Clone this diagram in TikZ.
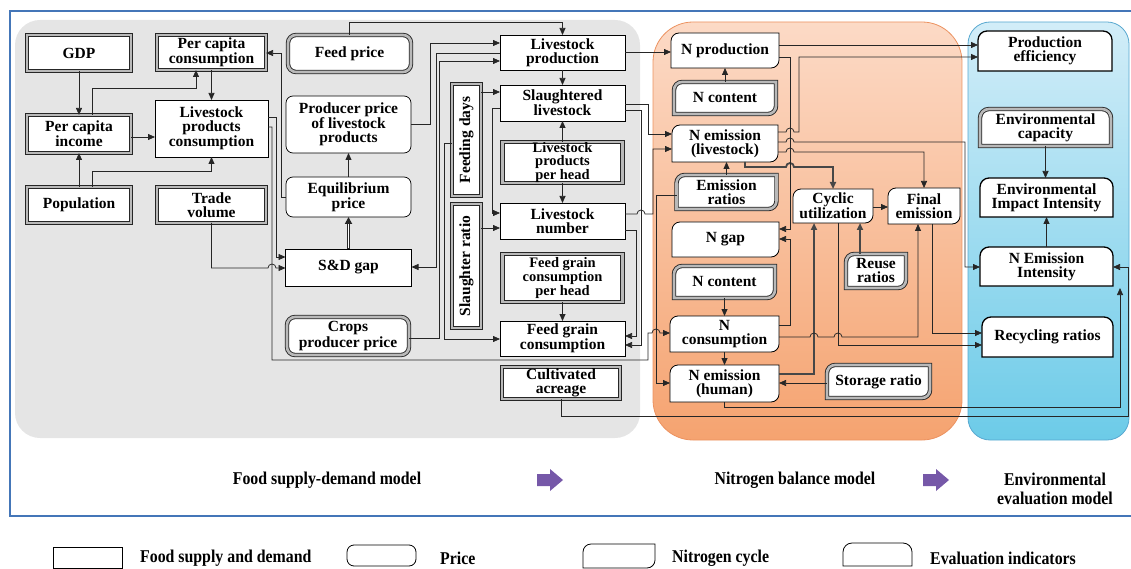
\documentclass[tikz,border=0pt]{standalone}
\usepackage{fontspec}
\setmainfont{Liberation Serif}
\newfontfamily\condfont[FakeStretch=0.88]{Liberation Serif}
\usetikzlibrary{arrows.meta}
\pgfdeclarelayer{back}
\pgfdeclarelayer{mid}
\pgfsetlayers{back,mid,main}
\definecolor{panelgray}{RGB}{229,229,229}
\definecolor{orTop}{RGB}{252,218,198}
\definecolor{orBot}{RGB}{245,163,112}
\definecolor{orLine}{RGB}{236,146,96}
\definecolor{blTop}{RGB}{210,237,248}
\definecolor{blBot}{RGB}{108,203,232}
\definecolor{blLine}{RGB}{88,168,208}
\definecolor{frameblue}{RGB}{68,118,184}
\definecolor{purp}{RGB}{118,88,168}
\newcommand{\nfont}{\fontsize{15.5}{14}\selectfont\bfseries}
\newcommand{\tfont}{\fontsize{14.5}{12.6}\selectfont\bfseries}
\newcommand{\lfont}{\condfont\fontsize{18}{19}\selectfont\bfseries}
\newcommand{\nitshape}[2]{\draw[#2] (#1.south west) -- ([yshift=-8pt]#1.north west) arc[start angle=180,end angle=90,radius=8pt] -- (#1.north east) -- ([yshift=8pt]#1.south east) arc[start angle=0,end angle=-90,radius=8pt] -- cycle;}
\newcommand{\evshape}[2]{\draw[#2] (#1.south west) -- ([yshift=-9pt]#1.north west) arc[start angle=180,end angle=90,radius=9pt] -- ([xshift=-9pt]#1.north east) arc[start angle=90,end angle=0,radius=9pt] -- (#1.south east) -- cycle;}
\begin{document}
\begin{tikzpicture}[x=1pt,y=-1pt,
  base/.style={font=\nfont, align=center, inner sep=1pt, outer sep=0pt},
  food/.style={base, draw=black, line width=0.7pt, fill=white},
  foodx/.style={base, draw=black!85, line width=0.9pt, double=gray!55, double distance=2.6pt, fill=white},
  price/.style={food, rounded corners=7pt},
  pricex/.style={foodx, rounded corners=8pt},
  tightx/.style={font=\tfont, inner sep=0pt},
  nbox/.style={base},
  sline/.style={draw=black, line width=0.8pt, fill=white},
  sdbl/.style={draw=black!85, line width=0.9pt, double=gray!55, double distance=2.6pt, fill=white},
  sev/.style={draw=black, line width=1.3pt, fill=white},
  conn/.style={draw=black!85, line width=0.75pt, -{Triangle[length=7pt,width=6pt]}},
  thk/.style={conn, line width=1.8pt, draw=black!72},
  lab/.style={font=\lfont, align=center, inner sep=0pt},
  legbox/.style={base, minimum width=69pt, minimum height=21pt}
]
\useasboundingbox (0,0) rectangle (1131,569);

% ---------- panels ----------
\begin{pgfonlayer}{back}
\fill[panelgray, rounded corners=25pt] (15,20) rectangle (640,438);
\shade[top color=orTop, bottom color=orBot, rounded corners=40pt] (653,22) rectangle (962,440);
\draw[orLine, line width=0.8pt, rounded corners=40pt] (653,22) rectangle (962,440);
\shade[top color=blTop, bottom color=blBot, rounded corners=22pt] (968,22) rectangle (1129,440);
\draw[blLine, line width=0.8pt, rounded corners=22pt] (968,22) rectangle (1129,440);
\draw[frameblue, line width=2.6pt] (1140,11) -- (10,11) -- (10,516) -- (1140,516);
\end{pgfonlayer}

% ---------- food supply-demand nodes ----------
\node[foodx, minimum width=104pt, minimum height=36pt] (gdp) at (79,53) {GDP};
\node[foodx, minimum width=109pt, minimum height=35pt] (pcc) at (211.5,52.5) {Per capita\\consumption};
\node[pricex, minimum width=123pt, minimum height=37pt] (feedp) at (349.5,53.5) {Feed price};
\node[foodx, minimum width=104pt, minimum height=38pt] (pci) at (79,134) {Per capita\\income};
\node[food, minimum width=113pt, minimum height=57pt] (lpc) at (211.5,128.5) {Livestock\\products\\consumption};
\node[price, minimum width=125pt, minimum height=57pt] (ppl) at (348.5,124.5) {Producer price\\of livestock\\products};
\node[price, minimum width=125pt, minimum height=40pt] (eqp) at (348.5,197) {Equilibrium\\price};
\node[foodx, minimum width=104pt, minimum height=36pt] (pop) at (79,205) {Population};
\node[foodx, minimum width=109pt, minimum height=36pt] (trade) at (211.5,205) {Trade\\volume};
\node[food, minimum width=126pt, minimum height=37pt] (sdg) at (348.5,267.5) {S\&D gap};
\node[pricex, minimum width=122pt, minimum height=38pt] (cpp) at (348,336) {Crops\\producer price};
\node[foodx, minimum width=29pt, minimum height=112pt] (fdays) at (466.5,140) {\rotatebox{90}{Feeding days}};
\node[foodx, minimum width=29pt, minimum height=124pt] (sratio) at (466.5,266) {\rotatebox{90}{Slaughter ratio}};
\node[food, minimum width=125pt, minimum height=35pt] (lp) at (562.5,52.5) {Livestock\\production};
\node[food, minimum width=125pt, minimum height=36pt] (sl) at (562.5,103) {Slaughtered\\livestock};
\node[foodx, tightx, minimum width=120pt, minimum height=41pt] (lpph) at (562.5,162.5) {Livestock\\products\\per head};
\node[food, minimum width=125pt, minimum height=36pt] (ln) at (562.5,221) {Livestock\\number};
\node[foodx, tightx, minimum width=120pt, minimum height=48pt] (fgcph) at (562.5,278) {Feed grain\\consumption\\per head};
\node[food, minimum width=125pt, minimum height=35pt] (fgc) at (562.5,338.5) {Feed grain\\consumption};
\node[foodx, minimum width=118pt, minimum height=32pt] (ca) at (561,383) {Cultivated\\acreage};

% ---------- nitrogen balance nodes ----------
\node[nbox, minimum width=108pt, minimum height=35pt] (nprod) at (725,50.5) {N production};
\node[nbox, minimum width=102pt, minimum height=32pt] (ncont1) at (725,98) {N content};
\node[nbox, minimum width=106pt, minimum height=37pt] (nel) at (725,143.5) {N emission\\(livestock)};
\node[nbox, minimum width=100pt, minimum height=34pt] (er) at (726.5,192) {Emission\\ratios};
\node[nbox, minimum width=107pt, minimum height=35pt] (ngap) at (725.5,239.5) {N gap};
\node[nbox, minimum width=101pt, minimum height=32pt] (ncont2) at (724.5,282) {N content};
\node[nbox, minimum width=109pt, minimum height=36pt] (ncons) at (724.5,334) {N\\consumption};
\node[nbox, minimum width=109pt, minimum height=37pt] (neh) at (724.5,383.5) {N emission\\(human)};
\node[nbox, minimum width=80pt, minimum height=34pt] (cyc) at (833,206) {Cyclic\\utilization};
\node[nbox, minimum width=72pt, minimum height=36pt] (fe) at (924,206) {Final\\emission};
\node[nbox, minimum width=60pt, minimum height=34pt] (reuse) at (876,271) {Reuse\\ratios};
\node[nbox, minimum width=103pt, minimum height=33pt] (storage) at (878.5,381.5) {Storage ratio};

% ---------- evaluation nodes ----------
\node[nbox, minimum width=134pt, minimum height=40pt] (pe) at (1045,51) {Production\\efficiency};
\node[nbox, minimum width=131pt, minimum height=37pt] (ecap) at (1045.5,127.5) {Environmental\\capacity};
\node[nbox, minimum width=133pt, minimum height=39pt] (eii) at (1046.5,197.5) {Environmental\\Impact Intensity};
\node[nbox, minimum width=133pt, minimum height=39pt] (nei) at (1046.5,266.5) {N Emission\\Intensity};
\node[nbox, minimum width=131pt, minimum height=40pt] (rr) at (1047.5,337) {Recycling ratios};

% ---------- legend nodes ----------
\node[legbox, draw=black, line width=0.8pt] (lg1) at (87.5,557.5) {};
\node[legbox, draw=black, line width=0.8pt, rounded corners=7pt] (lg2) at (381.5,555.5) {};
\node[legbox, minimum width=72pt, minimum height=24pt] (lg3) at (619,556) {};
\node[legbox, minimum height=23pt] (lg4) at (877.5,554.5) {};
\node[lab, anchor=west] (lt1) at (140,558) {Food supply and demand};
\node[lab, anchor=west] (lt2) at (440,558) {Price};
\node[lab, anchor=west] (lt3) at (672,558) {Nitrogen cycle};
\node[lab, anchor=west] (lt4) at (930,558) {Evaluation indicators};

% ---------- custom shapes ----------
\begin{pgfonlayer}{mid}
\nitshape{nprod}{sline}
\nitshape{ncont1}{sdbl}
\nitshape{nel}{sline}
\nitshape{er}{sdbl}
\nitshape{ngap}{sline}
\nitshape{ncont2}{sdbl}
\nitshape{ncons}{sline}
\nitshape{neh}{sline}
\nitshape{cyc}{sline}
\nitshape{fe}{sline}
\nitshape{reuse}{sdbl}
\nitshape{storage}{sdbl}
\evshape{pe}{sev}
\evshape{ecap}{sdbl}
\evshape{eii}{sev}
\evshape{nei}{sev}
\evshape{rr}{sev}
\nitshape{lg3}{sline}
\evshape{lg4}{sline}
\end{pgfonlayer}

% ---------- food model connectors ----------
\draw[conn] (gdp.south) -- (gdp.south |- pci.north);
\draw[conn] (pop.north) -- (pop.north |- pci.south);
\draw[conn] (pci.north -| 92,0) -- (92,88) -| (pcc.south -| 196,0);
\draw[conn] (pop.north -| 92,0) -- (92,171) -| (lpc.south);
\draw[conn] (pcc.south) -- (pcc.south |- lpc.north);
\draw[conn] (pci.east |- 0,137) -- (lpc.west |- 0,137);
\draw[conn] (trade.south) -- (211.5,268) -- (268,268) arc[start angle=180,end angle=0,radius=4pt] -- (sdg.west |- 0,268);
\draw[conn] (lpc.east |- 0,117) -- (276,117) -- (276,257) -- (sdg.west |- 0,257);
\draw[conn] (lpc.east |- 0,127) -- (272,127) -- (272,360) -- (648,360) -- (648,333) -- (652,333) arc[start angle=180,end angle=0,radius=4pt] -- (ncons.west |- 0,333);
\draw[conn] (eqp.west) -- (281,197) -- (281,53) -- (pcc.east |- 0,53);
\draw[line width=2.4pt, draw=black!85, -{Triangle[length=7pt,width=7pt]}] (sdg.north) -- (sdg.north |- eqp.south);
\draw[white, line width=0.8pt, shorten <=1pt, shorten >=7pt] (sdg.north) -- (sdg.north |- eqp.south);
\draw[conn] (eqp.north) -- (eqp.north |- ppl.south);
\draw[conn] (ppl.east) -- (430,124.5) -- (430,43) -- (lp.west |- 0,43);
\draw[conn] (feedp.north) -- (349.5,22) -| (lp.north);
\draw[conn] (lp.west |- 0,53) -- (436,53) -- (436,267) -- (sdg.east |- 0,267);
\draw[conn] (cpp.east |- 0,338) -- (439,338) -- (439,61) -- (lp.west |- 0,61);
\draw[conn] (fdays.west |- 0,143) -- (444,143) -- (444,339) -- (fgc.west |- 0,339);
\draw[conn] (fdays.east |- 0,92) -- (sl.west |- 0,92);
\draw[conn] (sratio.east |- 0,228) -- (ln.west |- 0,228);
\draw[conn] (sl.west |- 0,108) -- (492,108) -- (492,213) -- (ln.west |- 0,213);
\draw[conn] (lp.south) -- (lp.south |- sl.north);
\draw[conn] (lpph.north) -- (lpph.north |- sl.south);
\draw[conn] (lpph.south) -- (lpph.south |- ln.north);
\draw[conn] (fgcph.south) -- (fgcph.south |- fgc.north);
\draw[conn] (ln.east |- 0,230) -- (636,230) -- (636,336) -- (fgc.east |- 0,336);
\draw[conn] (sl.east |- 0,110) -- (641,110) -- (641,345) -- (fgc.east |- 0,345);
\draw[conn] (sl.east |- 0,104) -- (648,104) -- (648,134) -- (nel.west |- 0,134);
\draw[conn] (ln.east |- 0,214) -- (637,214) arc[start angle=180,end angle=0,radius=4pt] -- (653,214) -- (653,149) -- (nel.west |- 0,149);
\draw[conn] (lp.east |- 0,52) -- (nprod.west |- 0,52);
\draw[conn] (ca.south) -- (561,416) -- (1128,416) -- (1128,267) -- (nei.east |- 0,267);

% ---------- nitrogen model connectors ----------
\draw[conn] (ncont1.north) -- (ncont1.north |- nprod.south);
\draw[conn] (er.north) -- (er.north |- nel.south);
\draw[conn] (ncont2.south) -- (ncont2.south |- ncons.north);
\draw[conn] (ncons.south) -- (ncons.south |- neh.north);
\draw[conn] (storage.west |- 0,383) -- (neh.east |- 0,383);
\draw[thk] (reuse.north -| 860,0) -- (cyc.south -| 860,0);
\draw[conn] (cyc.east |- 0,207) -- (fe.west |- 0,207);
\draw[thk] (neh.east |- 0,374) -- (814,374) -- (cyc.south -| 814,0);
\draw[thk] (nel.south -| 745,0) -- (745,167) -- (786,167) arc[start angle=180,end angle=0,radius=4pt] -- (833,167) -- (cyc.north);
\draw[conn] (nel.east |- 0,152) -- (786,152) arc[start angle=180,end angle=0,radius=4pt] -- (924,152) -- (fe.north);
\draw[conn] (nel.east |- 0,142) -- (786,142) arc[start angle=180,end angle=0,radius=4pt] -- (965,142) -- (965,267) -- (nei.west |- 0,267);
\draw[conn] (nel.east |- 0,132) -- (786,132) arc[start angle=180,end angle=0,radius=4pt] -- (799,132) -- (799,57) -- (pe.west |- 0,57);
\draw[conn] (nprod.east |- 0,45) -- (pe.west |- 0,45);
\draw[conn] (nprod.east |- 0,57) -- (790,57) -- (790,229) -- (ngap.east |- 0,229);
\draw[conn] (ncons.east |- 0,325) -- (790,325) -- (790,239) -- (ngap.east |- 0,239);
\draw[conn] (ncons.east |- 0,337) -- (810,337) arc[start angle=180,end angle=0,radius=4pt] -- (834,337) arc[start angle=180,end angle=0,radius=4pt] -- (918,337) -- (fe.south -| 918,0);
\draw[conn] (cyc.south -| 838,0) -- (838,345) -- (rr.west |- 0,345);
\draw[conn] (fe.south -| 932,0) -- (932,333) -- (rr.west |- 0,333);
\draw[conn] (er.west |- 0,195) -- (656,195) -- (656,383) -- (neh.west |- 0,383);
\draw[conn] (neh.south) -- (724.5,407) -- (1120,407) -- (1120,288);

% ---------- evaluation connectors ----------
\draw[conn] (ecap.south) -- (ecap.south |- eii.north);
\draw[conn] (nei.north) -- (nei.north |- eii.south);

% ---------- model labels ----------
\node[lab] (m1) at (327,480) {Food supply-demand model};
\node[lab] (m2) at (795,480) {Nitrogen balance model};
\node[lab] (m3) at (1055,489) {Environmental\\evaluation model};
\fill[purp] (537,474) -- (550,474) -- (550,469) -- (563,480) -- (550,491) -- (550,486) -- (537,486) -- cycle;
\fill[purp] (923,474) -- (936,474) -- (936,469) -- (949,480) -- (936,491) -- (936,486) -- (923,486) -- cycle;
\end{tikzpicture}
\end{document}
